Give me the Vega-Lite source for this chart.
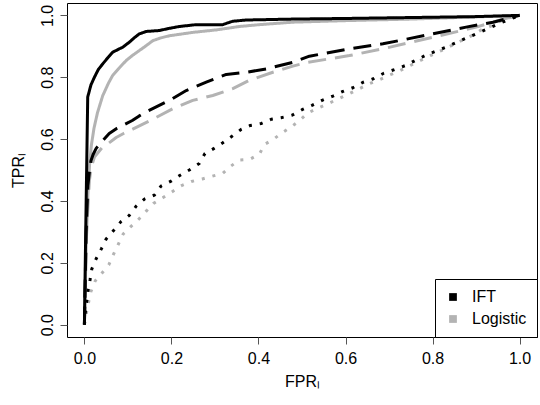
{
  "$schema": "https://vega.github.io/schema/vega-lite/v6.json",
  "width": 470,
  "height": 334,
  "autosize": {"type": "none"},
  "padding": {"left": 67, "top": 3, "right": 3, "bottom": 68},
  "background": "white",
  "data": {"values": [
    {"model":"Logistic","type":"solid","fpr":0,"tpr":0},{"model":"Logistic","type":"solid","fpr":0.004,"tpr":0.25},{"model":"Logistic","type":"solid","fpr":0.008,"tpr":0.42},{"model":"Logistic","type":"solid","fpr":0.012,"tpr":0.52},{"model":"Logistic","type":"solid","fpr":0.016,"tpr":0.58},{"model":"Logistic","type":"solid","fpr":0.022,"tpr":0.635},{"model":"Logistic","type":"solid","fpr":0.03,"tpr":0.685},{"model":"Logistic","type":"solid","fpr":0.042,"tpr":0.74},{"model":"Logistic","type":"solid","fpr":0.055,"tpr":0.78},{"model":"Logistic","type":"solid","fpr":0.065,"tpr":0.806},{"model":"Logistic","type":"solid","fpr":0.08,"tpr":0.83},{"model":"Logistic","type":"solid","fpr":0.096,"tpr":0.854},{"model":"Logistic","type":"solid","fpr":0.11,"tpr":0.87},{"model":"Logistic","type":"solid","fpr":0.126,"tpr":0.886},{"model":"Logistic","type":"solid","fpr":0.14,"tpr":0.9},{"model":"Logistic","type":"solid","fpr":0.157,"tpr":0.918},{"model":"Logistic","type":"solid","fpr":0.175,"tpr":0.927},{"model":"Logistic","type":"solid","fpr":0.195,"tpr":0.934},{"model":"Logistic","type":"solid","fpr":0.249,"tpr":0.945},{"model":"Logistic","type":"solid","fpr":0.303,"tpr":0.953},{"model":"Logistic","type":"solid","fpr":0.356,"tpr":0.964},{"model":"Logistic","type":"solid","fpr":0.402,"tpr":0.97},{"model":"Logistic","type":"solid","fpr":0.479,"tpr":0.978},{"model":"Logistic","type":"solid","fpr":0.6,"tpr":0.983},{"model":"Logistic","type":"solid","fpr":0.75,"tpr":0.988},{"model":"Logistic","type":"solid","fpr":0.9,"tpr":0.995},{"model":"Logistic","type":"solid","fpr":1,"tpr":1},
    {"model":"Logistic","type":"dashed","fpr":0,"tpr":0},{"model":"Logistic","type":"dashed","fpr":0.005,"tpr":0.3},{"model":"Logistic","type":"dashed","fpr":0.0115,"tpr":0.467},{"model":"Logistic","type":"dashed","fpr":0.016,"tpr":0.51},{"model":"Logistic","type":"dashed","fpr":0.023,"tpr":0.542},{"model":"Logistic","type":"dashed","fpr":0.042,"tpr":0.575},{"model":"Logistic","type":"dashed","fpr":0.054,"tpr":0.585},{"model":"Logistic","type":"dashed","fpr":0.073,"tpr":0.605},{"model":"Logistic","type":"dashed","fpr":0.09,"tpr":0.618},{"model":"Logistic","type":"dashed","fpr":0.111,"tpr":0.632},{"model":"Logistic","type":"dashed","fpr":0.157,"tpr":0.664},{"model":"Logistic","type":"dashed","fpr":0.203,"tpr":0.698},{"model":"Logistic","type":"dashed","fpr":0.249,"tpr":0.725},{"model":"Logistic","type":"dashed","fpr":0.295,"tpr":0.741},{"model":"Logistic","type":"dashed","fpr":0.341,"tpr":0.763},{"model":"Logistic","type":"dashed","fpr":0.379,"tpr":0.79},{"model":"Logistic","type":"dashed","fpr":0.433,"tpr":0.816},{"model":"Logistic","type":"dashed","fpr":0.479,"tpr":0.836},{"model":"Logistic","type":"dashed","fpr":0.513,"tpr":0.848},{"model":"Logistic","type":"dashed","fpr":0.609,"tpr":0.87},{"model":"Logistic","type":"dashed","fpr":0.686,"tpr":0.892},{"model":"Logistic","type":"dashed","fpr":0.8,"tpr":0.929},{"model":"Logistic","type":"dashed","fpr":0.9,"tpr":0.962},{"model":"Logistic","type":"dashed","fpr":0.962,"tpr":0.988},{"model":"Logistic","type":"dashed","fpr":1,"tpr":1},
    {"model":"Logistic","type":"dotted","fpr":0,"tpr":0},{"model":"Logistic","type":"dotted","fpr":0.005,"tpr":0.04},{"model":"Logistic","type":"dotted","fpr":0.01,"tpr":0.075},{"model":"Logistic","type":"dotted","fpr":0.015,"tpr":0.107},{"model":"Logistic","type":"dotted","fpr":0.025,"tpr":0.142},{"model":"Logistic","type":"dotted","fpr":0.041,"tpr":0.168},{"model":"Logistic","type":"dotted","fpr":0.056,"tpr":0.193},{"model":"Logistic","type":"dotted","fpr":0.067,"tpr":0.228},{"model":"Logistic","type":"dotted","fpr":0.078,"tpr":0.26},{"model":"Logistic","type":"dotted","fpr":0.089,"tpr":0.293},{"model":"Logistic","type":"dotted","fpr":0.106,"tpr":0.316},{"model":"Logistic","type":"dotted","fpr":0.125,"tpr":0.341},{"model":"Logistic","type":"dotted","fpr":0.142,"tpr":0.367},{"model":"Logistic","type":"dotted","fpr":0.159,"tpr":0.392},{"model":"Logistic","type":"dotted","fpr":0.18,"tpr":0.41},{"model":"Logistic","type":"dotted","fpr":0.201,"tpr":0.429},{"model":"Logistic","type":"dotted","fpr":0.222,"tpr":0.449},{"model":"Logistic","type":"dotted","fpr":0.246,"tpr":0.463},{"model":"Logistic","type":"dotted","fpr":0.271,"tpr":0.471},{"model":"Logistic","type":"dotted","fpr":0.294,"tpr":0.48},{"model":"Logistic","type":"dotted","fpr":0.318,"tpr":0.489},{"model":"Logistic","type":"dotted","fpr":0.337,"tpr":0.513},{"model":"Logistic","type":"dotted","fpr":0.356,"tpr":0.532},{"model":"Logistic","type":"dotted","fpr":0.379,"tpr":0.534},{"model":"Logistic","type":"dotted","fpr":0.402,"tpr":0.551},{"model":"Logistic","type":"dotted","fpr":0.414,"tpr":0.583},{"model":"Logistic","type":"dotted","fpr":0.433,"tpr":0.598},{"model":"Logistic","type":"dotted","fpr":0.454,"tpr":0.62},{"model":"Logistic","type":"dotted","fpr":0.475,"tpr":0.639},{"model":"Logistic","type":"dotted","fpr":0.496,"tpr":0.662},{"model":"Logistic","type":"dotted","fpr":0.513,"tpr":0.684},{"model":"Logistic","type":"dotted","fpr":0.538,"tpr":0.701},{"model":"Logistic","type":"dotted","fpr":0.562,"tpr":0.716},{"model":"Logistic","type":"dotted","fpr":0.585,"tpr":0.731},{"model":"Logistic","type":"dotted","fpr":0.609,"tpr":0.747},{"model":"Logistic","type":"dotted","fpr":0.632,"tpr":0.763},{"model":"Logistic","type":"dotted","fpr":0.655,"tpr":0.779},{"model":"Logistic","type":"dotted","fpr":0.678,"tpr":0.792},{"model":"Logistic","type":"dotted","fpr":0.703,"tpr":0.808},{"model":"Logistic","type":"dotted","fpr":0.726,"tpr":0.822},{"model":"Logistic","type":"dotted","fpr":0.749,"tpr":0.838},{"model":"Logistic","type":"dotted","fpr":0.772,"tpr":0.854},{"model":"Logistic","type":"dotted","fpr":0.795,"tpr":0.87},{"model":"Logistic","type":"dotted","fpr":0.82,"tpr":0.886},{"model":"Logistic","type":"dotted","fpr":0.843,"tpr":0.902},{"model":"Logistic","type":"dotted","fpr":0.866,"tpr":0.918},{"model":"Logistic","type":"dotted","fpr":0.889,"tpr":0.934},{"model":"Logistic","type":"dotted","fpr":0.912,"tpr":0.953},{"model":"Logistic","type":"dotted","fpr":0.935,"tpr":0.966},{"model":"Logistic","type":"dotted","fpr":0.958,"tpr":0.983},{"model":"Logistic","type":"dotted","fpr":0.981,"tpr":0.994},{"model":"Logistic","type":"dotted","fpr":1,"tpr":1},
    {"model":"IFT","type":"solid","fpr":0,"tpr":0},{"model":"IFT","type":"solid","fpr":0.003,"tpr":0.3},{"model":"IFT","type":"solid","fpr":0.0076,"tpr":0.736},{"model":"IFT","type":"solid","fpr":0.015,"tpr":0.775},{"model":"IFT","type":"solid","fpr":0.023,"tpr":0.8},{"model":"IFT","type":"solid","fpr":0.032,"tpr":0.825},{"model":"IFT","type":"solid","fpr":0.042,"tpr":0.843},{"model":"IFT","type":"solid","fpr":0.055,"tpr":0.865},{"model":"IFT","type":"solid","fpr":0.065,"tpr":0.881},{"model":"IFT","type":"solid","fpr":0.088,"tpr":0.897},{"model":"IFT","type":"solid","fpr":0.103,"tpr":0.913},{"model":"IFT","type":"solid","fpr":0.115,"tpr":0.928},{"model":"IFT","type":"solid","fpr":0.126,"tpr":0.94},{"model":"IFT","type":"solid","fpr":0.142,"tpr":0.948},{"model":"IFT","type":"solid","fpr":0.172,"tpr":0.951},{"model":"IFT","type":"solid","fpr":0.195,"tpr":0.958},{"model":"IFT","type":"solid","fpr":0.218,"tpr":0.964},{"model":"IFT","type":"solid","fpr":0.257,"tpr":0.97},{"model":"IFT","type":"solid","fpr":0.318,"tpr":0.97},{"model":"IFT","type":"solid","fpr":0.33,"tpr":0.976},{"model":"IFT","type":"solid","fpr":0.341,"tpr":0.981},{"model":"IFT","type":"solid","fpr":0.372,"tpr":0.985},{"model":"IFT","type":"solid","fpr":0.479,"tpr":0.988},{"model":"IFT","type":"solid","fpr":0.6,"tpr":0.99},{"model":"IFT","type":"solid","fpr":0.75,"tpr":0.993},{"model":"IFT","type":"solid","fpr":0.9,"tpr":0.996},{"model":"IFT","type":"solid","fpr":1,"tpr":1},
    {"model":"IFT","type":"dashed","fpr":0,"tpr":0},{"model":"IFT","type":"dashed","fpr":0.004,"tpr":0.3},{"model":"IFT","type":"dashed","fpr":0.008,"tpr":0.45},{"model":"IFT","type":"dashed","fpr":0.012,"tpr":0.5},{"model":"IFT","type":"dashed","fpr":0.015,"tpr":0.53},{"model":"IFT","type":"dashed","fpr":0.02,"tpr":0.55},{"model":"IFT","type":"dashed","fpr":0.027,"tpr":0.57},{"model":"IFT","type":"dashed","fpr":0.042,"tpr":0.595},{"model":"IFT","type":"dashed","fpr":0.057,"tpr":0.618},{"model":"IFT","type":"dashed","fpr":0.075,"tpr":0.635},{"model":"IFT","type":"dashed","fpr":0.096,"tpr":0.65},{"model":"IFT","type":"dashed","fpr":0.11,"tpr":0.66},{"model":"IFT","type":"dashed","fpr":0.126,"tpr":0.675},{"model":"IFT","type":"dashed","fpr":0.145,"tpr":0.69},{"model":"IFT","type":"dashed","fpr":0.165,"tpr":0.704},{"model":"IFT","type":"dashed","fpr":0.203,"tpr":0.731},{"model":"IFT","type":"dashed","fpr":0.234,"tpr":0.757},{"model":"IFT","type":"dashed","fpr":0.28,"tpr":0.784},{"model":"IFT","type":"dashed","fpr":0.326,"tpr":0.809},{"model":"IFT","type":"dashed","fpr":0.372,"tpr":0.816},{"model":"IFT","type":"dashed","fpr":0.418,"tpr":0.827},{"model":"IFT","type":"dashed","fpr":0.479,"tpr":0.848},{"model":"IFT","type":"dashed","fpr":0.517,"tpr":0.868},{"model":"IFT","type":"dashed","fpr":0.609,"tpr":0.892},{"model":"IFT","type":"dashed","fpr":0.686,"tpr":0.908},{"model":"IFT","type":"dashed","fpr":0.8,"tpr":0.94},{"model":"IFT","type":"dashed","fpr":0.877,"tpr":0.962},{"model":"IFT","type":"dashed","fpr":0.939,"tpr":0.978},{"model":"IFT","type":"dashed","fpr":1,"tpr":1},
    {"model":"IFT","type":"dotted","fpr":0,"tpr":0},{"model":"IFT","type":"dotted","fpr":0.002,"tpr":0.038},{"model":"IFT","type":"dotted","fpr":0.005,"tpr":0.072},{"model":"IFT","type":"dotted","fpr":0.008,"tpr":0.107},{"model":"IFT","type":"dotted","fpr":0.013,"tpr":0.145},{"model":"IFT","type":"dotted","fpr":0.017,"tpr":0.18},{"model":"IFT","type":"dotted","fpr":0.027,"tpr":0.213},{"model":"IFT","type":"dotted","fpr":0.039,"tpr":0.245},{"model":"IFT","type":"dotted","fpr":0.05,"tpr":0.277},{"model":"IFT","type":"dotted","fpr":0.067,"tpr":0.304},{"model":"IFT","type":"dotted","fpr":0.084,"tpr":0.333},{"model":"IFT","type":"dotted","fpr":0.103,"tpr":0.353},{"model":"IFT","type":"dotted","fpr":0.119,"tpr":0.383},{"model":"IFT","type":"dotted","fpr":0.138,"tpr":0.406},{"model":"IFT","type":"dotted","fpr":0.161,"tpr":0.419},{"model":"IFT","type":"dotted","fpr":0.176,"tpr":0.448},{"model":"IFT","type":"dotted","fpr":0.199,"tpr":0.464},{"model":"IFT","type":"dotted","fpr":0.22,"tpr":0.483},{"model":"IFT","type":"dotted","fpr":0.241,"tpr":0.5},{"model":"IFT","type":"dotted","fpr":0.264,"tpr":0.521},{"model":"IFT","type":"dotted","fpr":0.277,"tpr":0.553},{"model":"IFT","type":"dotted","fpr":0.297,"tpr":0.569},{"model":"IFT","type":"dotted","fpr":0.318,"tpr":0.588},{"model":"IFT","type":"dotted","fpr":0.339,"tpr":0.609},{"model":"IFT","type":"dotted","fpr":0.36,"tpr":0.631},{"model":"IFT","type":"dotted","fpr":0.381,"tpr":0.644},{"model":"IFT","type":"dotted","fpr":0.406,"tpr":0.65},{"model":"IFT","type":"dotted","fpr":0.429,"tpr":0.664},{"model":"IFT","type":"dotted","fpr":0.452,"tpr":0.669},{"model":"IFT","type":"dotted","fpr":0.477,"tpr":0.677},{"model":"IFT","type":"dotted","fpr":0.5,"tpr":0.695},{"model":"IFT","type":"dotted","fpr":0.523,"tpr":0.709},{"model":"IFT","type":"dotted","fpr":0.546,"tpr":0.725},{"model":"IFT","type":"dotted","fpr":0.571,"tpr":0.739},{"model":"IFT","type":"dotted","fpr":0.594,"tpr":0.754},{"model":"IFT","type":"dotted","fpr":0.617,"tpr":0.766},{"model":"IFT","type":"dotted","fpr":0.641,"tpr":0.784},{"model":"IFT","type":"dotted","fpr":0.664,"tpr":0.795},{"model":"IFT","type":"dotted","fpr":0.688,"tpr":0.813},{"model":"IFT","type":"dotted","fpr":0.713,"tpr":0.825},{"model":"IFT","type":"dotted","fpr":0.738,"tpr":0.838},{"model":"IFT","type":"dotted","fpr":0.76,"tpr":0.854},{"model":"IFT","type":"dotted","fpr":0.783,"tpr":0.87},{"model":"IFT","type":"dotted","fpr":0.807,"tpr":0.884},{"model":"IFT","type":"dotted","fpr":0.831,"tpr":0.897},{"model":"IFT","type":"dotted","fpr":0.856,"tpr":0.913},{"model":"IFT","type":"dotted","fpr":0.877,"tpr":0.926},{"model":"IFT","type":"dotted","fpr":0.903,"tpr":0.942},{"model":"IFT","type":"dotted","fpr":0.926,"tpr":0.956},{"model":"IFT","type":"dotted","fpr":0.95,"tpr":0.972},{"model":"IFT","type":"dotted","fpr":0.973,"tpr":0.985},{"model":"IFT","type":"dotted","fpr":1,"tpr":1}
  ]},
  "mark": {"type": "line", "strokeWidth": 3, "strokeJoin": "round"},
  "encoding": {
    "x": {"field": "fpr", "type": "quantitative", "sort": null, "scale": {"domain": [-0.04, 1.04], "nice": false, "zero": false}, "axis": {"values": [0, 0.2, 0.4, 0.6, 0.8, 1], "format": ".1f", "title": "FPRₗ", "titleX": 235, "titleY": 49.5, "titleBaseline": "alphabetic", "titleAlign": "center", "labelPadding": 6}},
    "y": {"field": "tpr", "type": "quantitative", "scale": {"domain": [-0.04, 1.04], "nice": false, "zero": false}, "axis": {"values": [0, 0.2, 0.4, 0.6, 0.8, 1], "format": ".1f", "title": "TPRₗ", "titleX": -44, "titleY": 167, "titleBaseline": "alphabetic", "titleAlign": "center", "titleAngle": 270, "labelAngle": 270, "labelAlign": "center", "labelBaseline": "alphabetic", "labelPadding": 8}},
    "color": {"field": "model", "type": "nominal", "scale": {"domain": ["IFT", "Logistic"], "range": ["#000000", "#b3b3b3"]}, "legend": {"title": null, "orient": "bottom-right", "offset": 0, "padding": 10, "strokeColor": "#000000", "fillColor": "#ffffff", "symbolType": "square", "symbolSize": 60, "symbolStrokeWidth": 0, "labelFontSize": 16, "labelFont": "Liberation Sans", "labelColor": "#000000", "rowPadding": 6, "labelOffset": 11, "cornerRadius": 0, "encode": {"symbols": {"update": {"fill": {"scale": "color", "field": "value"}, "fillOpacity": {"value": 1}, "strokeWidth": {"value": 0}}}}}},
    "strokeDash": {"field": "type", "type": "nominal", "scale": {"domain": ["solid", "dashed", "dotted"], "range": [[1, 0], [18, 9], [3, 8]]}, "legend": null},
    "order": {"value": 0}
  },
  "config": {
    "view": {"stroke": "#000000", "strokeWidth": 1},
    "axis": {"grid": false, "domain": false, "tickColor": "#555555", "tickSize": 7, "tickWidth": 1, "labelFont": "Liberation Sans", "labelFontSize": 16, "labelColor": "#000000", "titleFont": "Liberation Sans", "titleFontSize": 16, "titleFontWeight": "normal", "titleColor": "#000000", "labelFlush": false, "labelOverlap": false}
  }
}
